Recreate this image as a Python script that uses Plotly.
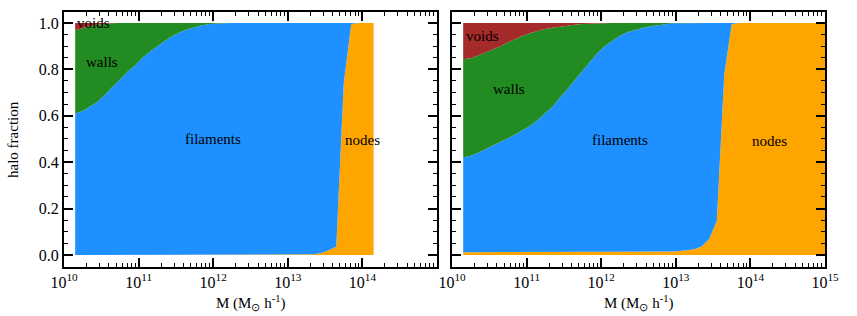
import plotly.graph_objects as go

# ---------------- data ----------------
# log10 of halo mass bin centres (M in Msun/h)
logm_left = [10.15, 10.25, 10.35, 10.45, 10.55, 10.65, 10.75, 10.85, 10.95, 11.05,
             11.15, 11.25, 11.35, 11.45, 11.55, 11.65, 11.75, 11.85, 11.95, 12.05,
             12.15, 12.25, 12.35, 12.45, 12.55, 12.65, 12.75, 12.85, 12.95, 13.05,
             13.15, 13.25, 13.35, 13.45, 13.55, 13.65, 13.75, 13.85, 13.95, 14.05,
             14.15]
nodes_left = [0, 0, 0, 0, 0, 0, 0, 0, 0, 0,
              0, 0, 0, 0, 0, 0, 0, 0, 0, 0,
              0, 0, 0, 0, 0, 0, 0, 0, 0, 0,
              0, 0, 0.003, 0.008, 0.02, 0.036, 0.74, 0.995, 1.0, 1.0,
              1.0]
filaments_left = [0.61, 0.62, 0.64, 0.66, 0.69, 0.725, 0.755, 0.79, 0.815, 0.85,
                  0.876, 0.90, 0.922, 0.942, 0.96, 0.972, 0.982, 0.99, 0.995, 0.998,
                  0.999, 1.0, 1.0, 1.0, 1.0, 1.0, 1.0, 1.0, 1.0, 1.0,
                  1.0, 1.0, 0.997, 0.992, 0.98, 0.964, 0.26, 0.005, 0, 0,
                  0]
walls_left = [0.358, 0.358, 0.347, 0.333, 0.307, 0.274, 0.245, 0.21, 0.185, 0.15,
              0.124, 0.10, 0.078, 0.058, 0.04, 0.028, 0.018, 0.01, 0.005, 0.002,
              0.001, 0, 0, 0, 0, 0, 0, 0, 0, 0,
              0, 0, 0, 0, 0, 0, 0, 0, 0, 0,
              0]
voids_left = [0.032, 0.022, 0.013, 0.007, 0.003, 0.001, 0, 0, 0, 0,
              0, 0, 0, 0, 0, 0, 0, 0, 0, 0,
              0, 0, 0, 0, 0, 0, 0, 0, 0, 0,
              0, 0, 0, 0, 0, 0, 0, 0, 0, 0,
              0]

logm_right = [10.15, 10.25, 10.35, 10.45, 10.55, 10.65, 10.75, 10.85, 10.95, 11.05,
              11.15, 11.25, 11.35, 11.45, 11.55, 11.65, 11.75, 11.85, 11.95, 12.05,
              12.15, 12.25, 12.35, 12.45, 12.55, 12.65, 12.75, 12.85, 12.95, 13.05,
              13.15, 13.25, 13.35, 13.45, 13.55, 13.65, 13.75, 13.85, 13.95, 14.05,
              14.15, 14.25, 14.35, 14.45, 14.55, 14.65, 14.75, 14.85, 14.95, 15.05]
nodes_right = [0.012, 0.012, 0.012, 0.012, 0.012, 0.012, 0.012, 0.012, 0.012, 0.012,
               0.012, 0.012, 0.012, 0.012, 0.013, 0.013, 0.013, 0.013, 0.013, 0.013,
               0.013, 0.013, 0.013, 0.013, 0.015, 0.015, 0.015, 0.015, 0.015, 0.017,
               0.020, 0.025, 0.037, 0.070, 0.147, 0.780, 0.995, 1.0, 1.0, 1.0,
               1.0, 1.0, 1.0, 1.0, 1.0, 1.0, 1.0, 1.0, 1.0, 1.0]
filaments_right = [0.408, 0.416, 0.428, 0.443, 0.458, 0.473, 0.491, 0.508, 0.525, 0.545,
                   0.571, 0.598, 0.628, 0.668, 0.702, 0.742, 0.782, 0.817, 0.857, 0.887,
                   0.911, 0.932, 0.947, 0.957, 0.963, 0.970, 0.975, 0.980, 0.983, 0.982,
                   0.980, 0.975, 0.963, 0.930, 0.853, 0.220, 0.005, 0, 0, 0,
                   0, 0, 0, 0, 0, 0, 0, 0, 0, 0]
walls_right = [0.423, 0.420, 0.420, 0.418, 0.416, 0.414, 0.414, 0.412, 0.408, 0.400,
               0.384, 0.364, 0.339, 0.304, 0.273, 0.237, 0.200, 0.167, 0.128, 0.099,
               0.076, 0.055, 0.040, 0.030, 0.022, 0.015, 0.010, 0.005, 0.002, 0.001,
               0, 0, 0, 0, 0, 0, 0, 0, 0, 0,
               0, 0, 0, 0, 0, 0, 0, 0, 0, 0]
voids_right = [0.157, 0.152, 0.140, 0.127, 0.114, 0.101, 0.083, 0.068, 0.055, 0.043,
               0.033, 0.026, 0.021, 0.016, 0.012, 0.008, 0.005, 0.003, 0.002, 0.001,
               0, 0, 0, 0, 0, 0, 0, 0, 0, 0,
               0, 0, 0, 0, 0, 0, 0, 0, 0, 0,
               0, 0, 0, 0, 0, 0, 0, 0, 0, 0]

categories = ["nodes", "filaments", "walls", "voids"]
colors = {"nodes": "#FFA500", "filaments": "#1E90FF", "walls": "#228B22", "voids": "#A52A2A"}

xtick_vals = [1e10, 1e11, 1e12, 1e13, 1e14, 1e15]
xtick_text_left = ["10<sup>10</sup>", "10<sup>11</sup>", "10<sup>12</sup>",
                   "10<sup>13</sup>", "10<sup>14</sup>", ""]
xtick_text_right = ["10<sup>10</sup>", "10<sup>11</sup>", "10<sup>12</sup>",
                    "10<sup>13</sup>", "10<sup>14</sup>", "10<sup>15</sup>"]
ytick_vals = [0.0, 0.2, 0.4, 0.6, 0.8, 1.0]
ytick_text = ["0.0", "0.2", "0.4", "0.6", "0.8", "1.0"]

# label positions (log10 M, fraction)
labels_left = {"voids": (10.15, 1.0, "left"), "walls": (10.51, 0.83, "center"),
               "filaments": (12.0, 0.5, "center"), "nodes": (14.0, 0.495, "center")}
labels_right = {"voids": (10.41, 0.945, "center"), "walls": (10.76, 0.717, "center"),
                "filaments": (12.25, 0.495, "center"), "nodes": (14.25, 0.49, "center")}

# ---------------- figure ----------------
W, H = 857, 316
ML, MR, MT, MB = 64, 32, 12, 49
PW = W - ML - MR
PH = H - MT - MB
FONT = "Liberation Serif, Times New Roman, serif"

fig = go.Figure()

panels = [
    ("x", "y", logm_left, {"nodes": nodes_left, "filaments": filaments_left,
                           "walls": walls_left, "voids": voids_left}, "L"),
    ("x2", "y2", logm_right, {"nodes": nodes_right, "filaments": filaments_right,
                              "walls": walls_right, "voids": voids_right}, "R"),
]
for xa, ya, logm, fr, grp in panels:
    mass = [10 ** v for v in logm]
    for cat in categories:
        fig.add_trace(go.Scatter(
            x=mass, y=fr[cat], xaxis=xa, yaxis=ya, mode="lines",
            stackgroup=grp, line=dict(width=0, color=colors[cat]),
            fillcolor=colors[cat], showlegend=False, hoverinfo="skip"))

axis_common = dict(
    showline=True, linewidth=2, linecolor="black", mirror="allticks",
    ticks="inside", ticklen=9, tickwidth=1.5, tickcolor="black",
    showgrid=False, zeroline=False, automargin=False,
    tickfont=dict(family=FONT, size=16, color="black"),
)
minor_x = dict(ticks="inside", ticklen=4, tickwidth=1.2, dtick="D1",
               tickcolor="black", showgrid=False)
minor_y = dict(ticks="inside", ticklen=4, tickwidth=1.2, dtick=0.05,
               tickcolor="black", showgrid=False)

fig.update_layout(
    width=W, height=H,
    margin=dict(l=ML, r=MR, t=MT, b=MB),
    paper_bgcolor="white", plot_bgcolor="white",
    font=dict(family=FONT, color="black"),
    xaxis=dict(type="log", range=[10, 15], domain=[0, 373 / PW],
               tickvals=xtick_vals, ticktext=xtick_text_left,
               minor=minor_x, anchor="y", **axis_common),
    yaxis=dict(range=[-0.052, 1.047], tickvals=ytick_vals, ticktext=ytick_text,
               minor=minor_y, anchor="x", **axis_common),
    xaxis2=dict(type="log", range=[10, 15], domain=[388 / PW, 1],
                tickvals=xtick_vals, ticktext=xtick_text_right,
                minor=minor_x, anchor="y2", **axis_common),
    yaxis2=dict(range=[-0.052, 1.047], tickvals=ytick_vals, ticktext=ytick_text,
                showticklabels=False, minor=minor_y, anchor="x2", **axis_common),
)

def px_to_paper(px, py):
    return (px - ML) / PW, (H - MB - py) / PH

annotations = []
for (xa, ya, labels) in [("x", "y", labels_left), ("x2", "y2", labels_right)]:
    for name, (lx, ly, anc) in labels.items():
        annotations.append(dict(x=lx, y=ly, xref=xa, yref=ya, text=name,
                                showarrow=False, xanchor=anc, yanchor="middle",
                                font=dict(family=FONT, size=15, color="black")))

xt = "M (M<sub>⊙</sub> h<sup>-1</sup>)"
for cx in (250.5, 638.5):
    ax, ay = px_to_paper(cx, 303)
    annotations.append(dict(x=ax, y=ay, xref="paper", yref="paper", text=xt,
                            showarrow=False, xanchor="center", yanchor="middle",
                            font=dict(family=FONT, size=15, color="black")))
ax, ay = px_to_paper(13, 140)
annotations.append(dict(x=ax, y=ay, xref="paper", yref="paper", text="halo fraction",
                        textangle=-90, showarrow=False, xanchor="center", yanchor="middle",
                        font=dict(family=FONT, size=15, color="black")))
fig.update_layout(annotations=annotations)

fig.write_html("out.html",
               config={"displayModeBar": False},
               post_script="document.body.style.margin='0px';"
                           "document.body.style.overflow='hidden';")
